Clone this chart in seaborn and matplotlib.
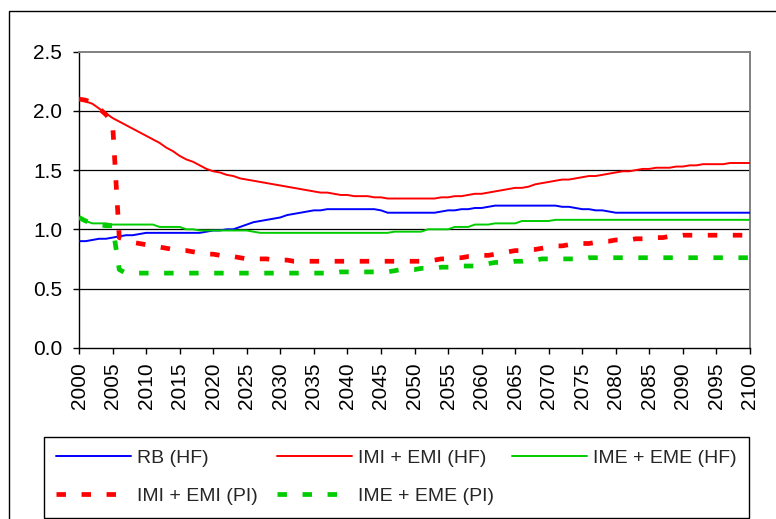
import numpy as np
import pandas as pd
import matplotlib
matplotlib.use("Agg")
import matplotlib.pyplot as plt
import matplotlib.patches as mpatches
import seaborn as sns

years = list(range(2000, 2101))

rb_hf = [
    0.90, 0.90, 0.91, 0.92, 0.92, 0.93, 0.94, 0.95, 0.95, 0.96,   # 2000-2009
    0.97, 0.97, 0.97, 0.97, 0.97, 0.97, 0.97, 0.97, 0.97, 0.98,   # 2010-2019
    0.99, 0.99, 1.00, 1.00, 1.02, 1.04, 1.06, 1.07, 1.08, 1.09,   # 2020-2029
    1.10, 1.12, 1.13, 1.14, 1.15, 1.16, 1.16, 1.17, 1.17, 1.17,   # 2030-2039
    1.17, 1.17, 1.17, 1.17, 1.17, 1.16, 1.14, 1.14, 1.14, 1.14,   # 2040-2049
    1.14, 1.14, 1.14, 1.14, 1.15, 1.16, 1.16, 1.17, 1.17, 1.18,   # 2050-2059
    1.18, 1.19, 1.20, 1.20, 1.20, 1.20, 1.20, 1.20, 1.20, 1.20,   # 2060-2069
    1.20, 1.20, 1.19, 1.19, 1.18, 1.17, 1.17, 1.16, 1.16, 1.15,   # 2070-2079
    1.14, 1.14, 1.14, 1.14, 1.14, 1.14, 1.14, 1.14, 1.14, 1.14,   # 2080-2089
    1.14, 1.14, 1.14, 1.14, 1.14, 1.14, 1.14, 1.14, 1.14, 1.14,   # 2090-2099
    1.14,                                                         # 2100
]

imi_emi_hf = [
    2.10, 2.08, 2.06, 2.02, 1.98, 1.94, 1.91, 1.88, 1.85, 1.82,
    1.79, 1.76, 1.73, 1.69, 1.66, 1.62, 1.59, 1.57, 1.54, 1.51,
    1.49, 1.48, 1.46, 1.45, 1.43, 1.42, 1.41, 1.40, 1.39, 1.38,
    1.37, 1.36, 1.35, 1.34, 1.33, 1.32, 1.31, 1.31, 1.30, 1.29,
    1.29, 1.28, 1.28, 1.28, 1.27, 1.27, 1.26, 1.26, 1.26, 1.26,
    1.26, 1.26, 1.26, 1.26, 1.27, 1.27, 1.28, 1.28, 1.29, 1.30,
    1.30, 1.31, 1.32, 1.33, 1.34, 1.35, 1.35, 1.36, 1.38, 1.39,
    1.40, 1.41, 1.42, 1.42, 1.43, 1.44, 1.45, 1.45, 1.46, 1.47,
    1.48, 1.49, 1.49, 1.50, 1.51, 1.51, 1.52, 1.52, 1.52, 1.53,
    1.53, 1.54, 1.54, 1.55, 1.55, 1.55, 1.55, 1.56, 1.56, 1.56,
    1.56,
]

ime_eme_hf = [
    1.10, 1.07, 1.05, 1.05, 1.05, 1.04, 1.04, 1.04, 1.04, 1.04,
    1.04, 1.04, 1.02, 1.02, 1.02, 1.02, 1.00, 1.00, 0.99, 0.99,
    0.99, 0.99, 0.99, 0.99, 0.99, 0.99, 0.98, 0.97, 0.97, 0.97,
    0.97, 0.97, 0.97, 0.97, 0.97, 0.97, 0.97, 0.97, 0.97, 0.97,
    0.97, 0.97, 0.97, 0.97, 0.97, 0.97, 0.97, 0.98, 0.98, 0.98,
    0.98, 0.98, 1.00, 1.00, 1.00, 1.00, 1.02, 1.02, 1.02, 1.04,
    1.04, 1.04, 1.05, 1.05, 1.05, 1.05, 1.07, 1.07, 1.07, 1.07,
    1.07, 1.08, 1.08, 1.08, 1.08, 1.08, 1.08, 1.08, 1.08, 1.08,
    1.08, 1.08, 1.08, 1.08, 1.08, 1.08, 1.08, 1.08, 1.08, 1.08,
    1.08, 1.08, 1.08, 1.08, 1.08, 1.08, 1.08, 1.08, 1.08, 1.08,
    1.08,
]

imi_emi_pi = [
    2.10, 2.09, 2.07, 2.02, 1.97, 1.90, 0.93, 0.91, 0.89, 0.88,
    0.87, 0.86, 0.85, 0.84, 0.83, 0.82, 0.82, 0.81, 0.80, 0.79,
    0.79, 0.78, 0.78, 0.77, 0.76, 0.75, 0.75, 0.75, 0.75, 0.74,
    0.74, 0.74, 0.73, 0.73, 0.73, 0.73, 0.73, 0.73, 0.73, 0.73,
    0.73, 0.73, 0.73, 0.73, 0.73, 0.73, 0.73, 0.73, 0.73, 0.73,
    0.73, 0.73, 0.73, 0.74, 0.75, 0.75, 0.76, 0.76, 0.77, 0.77,
    0.78, 0.78, 0.79, 0.80, 0.81, 0.82, 0.82, 0.83, 0.83, 0.84,
    0.85, 0.86, 0.86, 0.87, 0.87, 0.88, 0.88, 0.89, 0.90, 0.90,
    0.91, 0.91, 0.91, 0.92, 0.92, 0.93, 0.93, 0.93, 0.94, 0.94,
    0.95, 0.95, 0.95, 0.95, 0.95, 0.95, 0.95, 0.95, 0.95, 0.95,
    0.95,
]

ime_eme_pi = [
    1.10, 1.07, 1.05, 1.04, 1.03, 1.03, 0.66, 0.63, 0.63, 0.63,
    0.63, 0.63, 0.63, 0.63, 0.63, 0.63, 0.63, 0.63, 0.63, 0.63,
    0.63, 0.63, 0.63, 0.63, 0.63, 0.63, 0.63, 0.63, 0.63, 0.63,
    0.63, 0.63, 0.63, 0.63, 0.63, 0.63, 0.63, 0.63, 0.63, 0.64,
    0.64, 0.64, 0.64, 0.64, 0.64, 0.64, 0.64, 0.65, 0.66, 0.66,
    0.66, 0.67, 0.67, 0.67, 0.68, 0.68, 0.68, 0.69, 0.69, 0.69,
    0.70, 0.71, 0.72, 0.72, 0.72, 0.73, 0.73, 0.74, 0.74, 0.75,
    0.75, 0.75, 0.75, 0.75, 0.75, 0.75, 0.76, 0.76, 0.76, 0.76,
    0.76, 0.76, 0.76, 0.76, 0.76, 0.76, 0.76, 0.76, 0.76, 0.76,
    0.76, 0.76, 0.76, 0.76, 0.76, 0.76, 0.76, 0.76, 0.76, 0.76,
    0.76,
]

labels = ["RB (HF)", "IMI + EMI (HF)", "IME + EME (HF)",
          "IMI + EMI (PI)", "IME + EME (PI)"]
colors = ["#0000FF", "#FF0000", "#00CC00", "#FF0000", "#00CC00"]
yticks = [0.0, 0.5, 1.0, 1.5, 2.0, 2.5]
xticks = list(range(2000, 2101, 5))

sns.set_theme(style="white")
plt.rcParams["font.family"] = ["Liberation Sans", "DejaVu Sans"]

fig = plt.figure(figsize=(7.76, 5.19), dpi=100)
ax = fig.add_axes([79 / 776, 1 - 347.7 / 519, (750 - 79) / 776, (347.7 - 51.7) / 519])

series = [rb_hf, imi_emi_hf, ime_eme_hf, imi_emi_pi, ime_eme_pi]
handles = []
for i, (vals, lab, col) in enumerate(zip(series, labels, colors)):
    df = pd.DataFrame({"year": years, "value": vals})
    if i < 3:
        sns.lineplot(data=df, x="year", y="value", color=col, lw=1.4,
                     ax=ax, label=lab, legend=False, zorder=3)
    else:
        sns.lineplot(data=df, x="year", y="value", color=col, lw=3.4,
                     linestyle=(0, (2.0, 3.3)), ax=ax, label=lab,
                     legend=False, zorder=4)
    handles.append(ax.lines[-1])

ax.set_xlim(2000, 2100)
ax.set_ylim(0, 2.5)
ax.set_xticks(xticks)
ax.set_xticklabels([str(x) for x in xticks], rotation=90)
ax.set_yticks(yticks)
ax.set_yticklabels([f"{v:.1f}" for v in yticks])
ax.set_xlabel("")
ax.set_ylabel("")

for y in [0.5, 1.0, 1.5, 2.0]:
    ax.axhline(y, color="black", lw=0.9, zorder=1)

ax.spines["left"].set_color("black")
ax.spines["bottom"].set_color("black")
ax.spines["left"].set_linewidth(1.0)
ax.spines["bottom"].set_linewidth(1.0)
ax.spines["top"].set_color("#808080")
ax.spines["right"].set_color("#808080")
ax.spines["top"].set_linewidth(1.4)
ax.spines["right"].set_linewidth(1.4)
for s in ax.spines.values():
    s.set_visible(True)

ax.tick_params(axis="both", which="major", direction="out", length=4.5,
               width=1.0, color="black", labelsize=15, labelcolor="black",
               bottom=True, left=True)
ax.tick_params(axis="y", pad=7.5)
ax.tick_params(axis="x", pad=6)

# outer chart border
fig.patches.append(mpatches.Rectangle((9 / 776, -0.1), 1.2, 1 - 11 / 519 + 0.1,
                                      transform=fig.transFigure, fill=False,
                                      ec="black", lw=1.0))

order = [0, 3, 1, 4, 2]
leg = fig.legend([handles[i] for i in order], [labels[i] for i in order],
                 ncol=3, loc="lower left", mode="expand",
                 bbox_to_anchor=(44 / 776, 1.5 / 519, (749 - 44) / 776, 80 / 519),
                 borderaxespad=0, frameon=True, fancybox=False, shadow=False,
                 fontsize=14, handlelength=3.86, handletextpad=0.31,
                 labelspacing=1.06, borderpad=0.63, columnspacing=1.0)
leg.get_frame().set_edgecolor("black")
leg.get_frame().set_linewidth(1.0)
leg.get_frame().set_alpha(1)

fig.savefig("out.png", dpi=100)
